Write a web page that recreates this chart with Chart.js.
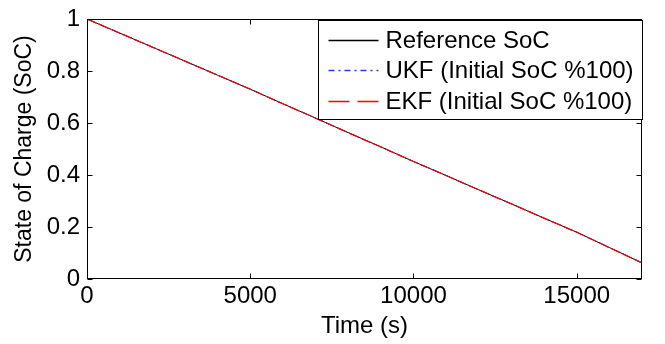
<!DOCTYPE html>
<html>
<head>
<meta charset="utf-8">
<script src="https://cdn.jsdelivr.net/npm/chart.js@4"></script>
<style>
  html, body { margin: 0; padding: 0; background: #fff; }
  #wrap { width: 665px; height: 344px; }
</style>
</head>
<body>
<div id="wrap"><canvas id="socChart" width="665" height="344"></canvas></div>
<script>
// Time axis (s) and SoC values
const timeSec = [0, 1000, 2000, 3000, 4000, 5000, 6000, 7000, 8000, 9000,
  10000, 11000, 12000, 13000, 14000, 15000, 16000, 17000];
const refSoC = [1.000, 0.946, 0.892, 0.838, 0.784, 0.730, 0.674, 0.619, 0.563, 0.508,
  0.452, 0.398, 0.343, 0.289, 0.234, 0.180, 0.121, 0.062];
const ukfSoC = [1.000, 0.946, 0.892, 0.838, 0.784, 0.730, 0.674, 0.619, 0.563, 0.508,
  0.452, 0.398, 0.343, 0.289, 0.234, 0.180, 0.121, 0.062];
const ekfSoC = [1.000, 0.946, 0.892, 0.838, 0.784, 0.730, 0.674, 0.619, 0.563, 0.508,
  0.452, 0.398, 0.343, 0.289, 0.234, 0.180, 0.121, 0.062];

const seriesLabels = ['Reference SoC', 'UKF (Initial SoC %100)', 'EKF (Initial SoC %100)'];
const xTicks = [0, 5000, 10000, 15000];
const yTicks = [0, 0.2, 0.4, 0.6, 0.8, 1];

const FONT = 'Liberation Sans, Arial, Helvetica, sans-serif';

const toPoints = (ys) => timeSec.map((t, i) => ({ x: t, y: ys[i] }));

// frame + inward tick marks, MATLAB style
const framePlugin = {
  id: 'frame',
  afterDatasetsDraw(chart) {
    const { ctx, chartArea: a, scales } = chart;
    const L = Math.round(a.left) + 0.5, R = Math.round(a.right) - 0.5;
    const T = Math.round(a.top) + 0.5, B = Math.round(a.bottom) - 0.5;
    ctx.save();
    ctx.strokeStyle = '#000';
    ctx.lineWidth = 1;
    ctx.strokeRect(L, T, R - L, B - T);
    const len = 5;
    ctx.beginPath();
    xTicks.forEach(v => {
      const x = Math.round(scales.x.getPixelForValue(v)) + 0.5;
      ctx.moveTo(x, B); ctx.lineTo(x, B - len);
      ctx.moveTo(x, T); ctx.lineTo(x, T + len);
    });
    yTicks.forEach(v => {
      const y = Math.round(scales.y.getPixelForValue(v)) + 0.5;
      ctx.moveTo(L, y); ctx.lineTo(L + len, y);
      ctx.moveTo(R, y); ctx.lineTo(R - len, y);
    });
    ctx.stroke();
    ctx.restore();
  }
};

// boxed legend in the top right corner
const boxLegend = {
  id: 'boxLegend',
  afterDraw(chart) {
    const { ctx, chartArea: a } = chart;
    const right = Math.round(a.right) + 0.5;
    const top = Math.round(a.top) + 1.5;
    const left = right - 324;
    const bottom = top + 99;
    ctx.save();
    ctx.fillStyle = '#fff';
    ctx.fillRect(left, top, right - left, bottom - top);
    ctx.strokeStyle = '#000';
    ctx.lineWidth = 1;
    ctx.strokeRect(left, top, right - left, bottom - top);
    ctx.font = '24px ' + FONT;
    ctx.textBaseline = 'alphabetic';
    ctx.fillStyle = '#000';
    const dashes = [[], [6, 4, 2, 4], [21, 8]];
    chart.data.datasets.forEach((ds, i) => {
      const baseY = top + 27 + i * 30.5;
      const lineY = Math.round(baseY - 8) + 0.5;
      ctx.beginPath();
      ctx.setLineDash(dashes[i]);
      ctx.strokeStyle = ds.borderColor;
      ctx.lineWidth = 1.3;
      ctx.moveTo(left + 10, lineY);
      ctx.lineTo(left + 60, lineY);
      ctx.stroke();
      ctx.setLineDash([]);
      ctx.fillText(ds.label, left + 67, baseY);
    });
    ctx.restore();
  }
};

new Chart(document.getElementById('socChart'), {
  type: 'line',
  data: {
    datasets: [
      { label: seriesLabels[0], data: toPoints(refSoC), borderColor: '#000000', borderWidth: 1, pointRadius: 0, order: 3 },
      { label: seriesLabels[1], data: toPoints(ukfSoC), borderColor: '#3030ff', borderWidth: 1, pointRadius: 0, borderDash: [6, 3, 1, 3], order: 2 },
      { label: seriesLabels[2], data: toPoints(ekfSoC), borderColor: '#ff0000', borderWidth: 1.3, pointRadius: 0, borderDash: [10, 3], order: 1 }
    ]
  },
  plugins: [framePlugin, boxLegend],
  options: {
    responsive: false,
    animation: false,
    layout: { padding: { left: 0, right: 23, top: 12, bottom: 0 } },
    plugins: { legend: { display: false }, tooltip: { enabled: false } },
    scales: {
      x: {
        type: 'linear',
        min: 0,
        max: 17000,
        grid: { display: false, drawTicks: false },
        border: { display: false },
        afterBuildTicks: (scale) => { scale.ticks = xTicks.map(v => ({ value: v })); },
        afterFit: (scale) => { scale.height = 65; },
        ticks: {
          color: '#000',
          padding: 5,
          maxRotation: 0,
          font: { family: FONT, size: 24, lineHeight: 1 },
          callback: (v) => String(v)
        },
        title: {
          display: true,
          text: 'Time (s)',
          color: '#000',
          padding: 3,
          font: { family: FONT, size: 24, lineHeight: 1.2 }
        }
      },
      y: {
        min: 0,
        max: 1,
        grid: { display: false, drawTicks: false },
        border: { display: false },
        afterBuildTicks: (scale) => { scale.ticks = yTicks.map(v => ({ value: v })); },
        afterFit: (scale) => { scale.width = 87; },
        ticks: {
          color: '#000',
          padding: 7,
          font: { family: FONT, size: 24, lineHeight: 1 },
          callback: (v) => String(v)
        },
        title: {
          display: true,
          text: 'State of Charge (SoC)',
          color: '#000',
          padding: { top: 11, bottom: 0 },
          font: { family: FONT, size: 23, lineHeight: 1.2 }
        }
      }
    }
  }
});
</script>
</body>
</html>
